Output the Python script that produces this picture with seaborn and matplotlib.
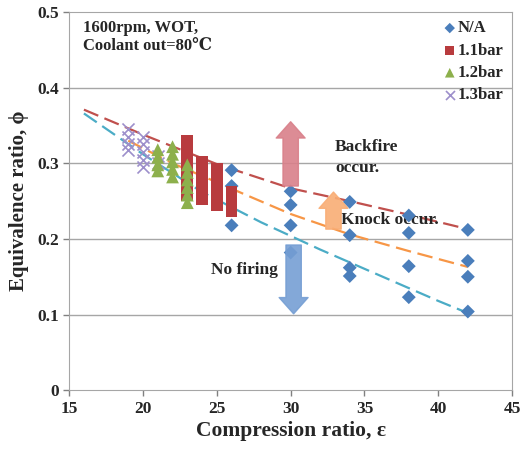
import numpy as np
import pandas as pd
import matplotlib
matplotlib.use("Agg")
import matplotlib.pyplot as plt
import seaborn as sns

# N/A (no boost) points
na_x = [26, 26, 26, 30, 30, 30, 30, 34, 34, 34, 34, 38, 38, 38, 38, 42, 42, 42, 42]
na_y = [0.291, 0.270, 0.218, 0.263, 0.245, 0.218, 0.182, 0.249, 0.205, 0.162, 0.151,
        0.231, 0.208, 0.164, 0.123, 0.212, 0.171, 0.150, 0.104]

# 1.1bar boost points (stacked)
b11_x = [23] * 8 + [24] * 6 + [25] * 6 + [26] * 4
b11_y = [0.330, 0.320, 0.310, 0.300, 0.290, 0.280, 0.270, 0.258,
         0.302, 0.292, 0.282, 0.272, 0.262, 0.253,
         0.293, 0.283, 0.273, 0.263, 0.253, 0.245,
         0.262, 0.253, 0.244, 0.237]

# 1.2bar boost points
b12_x = [21] * 4 + [22] * 5 + [23] * 6
b12_y = [0.318, 0.308, 0.298, 0.290,
         0.322, 0.312, 0.302, 0.292, 0.282,
         0.298, 0.288, 0.278, 0.268, 0.258, 0.248]

# 1.3bar boost points
b13_x = [19] * 4 + [20] * 5 + [21] * 2
b13_y = [0.345, 0.335, 0.325, 0.318,
         0.335, 0.325, 0.315, 0.305, 0.295,
         0.310, 0.300]

# trend lines
backfire_x = [16, 20, 25, 30, 34, 38, 42]
backfire_y = [0.371, 0.338, 0.299, 0.267, 0.250, 0.232, 0.213]
knock_x = [19, 22, 25, 27, 30, 34, 38, 42]
knock_y = [0.330, 0.300, 0.275, 0.258, 0.233, 0.206, 0.184, 0.163]
nofire_x = [16, 20, 24, 28, 32, 36, 40, 42]
nofire_y = [0.366, 0.312, 0.262, 0.222, 0.186, 0.152, 0.118, 0.102]

sns.set_style("white")
plt.rcParams['font.family'] = ['Liberation Serif', 'DejaVu Serif']
plt.rcParams['font.weight'] = 'bold'

fig = plt.figure(figsize=(5.28, 4.49), dpi=100)
ax = fig.add_axes([0.131, 0.131, 0.839, 0.842])

for yv in [0.1, 0.2, 0.3, 0.4]:
    ax.axhline(yv, color='#a6a6a6', lw=1.0, zorder=0)

# dashed trend lines
dash = (0, (7, 3))
sns.lineplot(x=backfire_x, y=backfire_y, ax=ax, color='#c0504d', lw=1.6,
             linestyle=dash, zorder=3)
sns.lineplot(x=knock_x, y=knock_y, ax=ax, color='#f79646', lw=1.6,
             linestyle=dash, zorder=3)
sns.lineplot(x=nofire_x, y=nofire_y, ax=ax, color='#4bacc6', lw=1.6,
             linestyle=dash, zorder=3)

sns.scatterplot(x=na_x, y=na_y, ax=ax, marker='D', color='#4a7ebb', s=50,
                edgecolor='none', label='N/A', zorder=4)
sns.scatterplot(x=b11_x, y=b11_y, ax=ax, marker='s', color='#b83b3e', s=70,
                edgecolor='none', label='1.1bar', zorder=4)
sns.scatterplot(x=b12_x, y=b12_y, ax=ax, marker='^', color='#8db04c', s=85,
                edgecolor='none', label='1.2bar', zorder=5)
sns.scatterplot(x=b13_x, y=b13_y, ax=ax, marker='x', color='#9d8fcb', s=75,
                linewidth=1.2, label='1.3bar', zorder=4)

# arrows
astyle = 'simple,head_length=0.9,head_width=1.6,tail_width=0.85'
ax.annotate('', xy=(30, 0.355), xytext=(30, 0.270),
            arrowprops=dict(arrowstyle=astyle, color='#d9808a', alpha=0.9,
                            shrinkA=0, shrinkB=0, mutation_scale=13), zorder=6)
ax.annotate('', xy=(32.9, 0.262), xytext=(32.9, 0.213),
            arrowprops=dict(arrowstyle=astyle, color='#f9ad75', alpha=0.9,
                            shrinkA=0, shrinkB=0, mutation_scale=13), zorder=6)
ax.annotate('', xy=(30.2, 0.101), xytext=(30.2, 0.192),
            arrowprops=dict(arrowstyle=astyle, color='#769fd4', alpha=0.9,
                            shrinkA=0, shrinkB=0, mutation_scale=13), zorder=6)

ax.text(15.95, 0.490, '1600rpm, WOT,\nCoolant out=80\u2103', fontsize=12,
        fontweight='bold', va='top', ha='left', linespacing=1.2)
ax.text(33.0, 0.322, 'Backfire', fontsize=12.5, fontweight='bold', va='center', ha='left')
ax.text(33.0, 0.294, 'occur.', fontsize=12.5, fontweight='bold', va='center', ha='left')
ax.text(33.4, 0.225, 'Knock occur.', fontsize=12.5, fontweight='bold', va='center', ha='left')
ax.text(24.6, 0.159, 'No firing', fontsize=12.5, fontweight='bold', va='center', ha='left')

ax.set_xlim(15, 45)
ax.set_ylim(0, 0.5)
ax.set_xticks([15, 20, 25, 30, 35, 40, 45])
ax.set_yticks([0, 0.1, 0.2, 0.3, 0.4, 0.5])
ax.set_yticklabels(['0', '0.1', '0.2', '0.3', '0.4', '0.5'])
ax.set_xlabel('Compression ratio, \u03b5', fontsize=15.5, fontweight='bold', labelpad=3)
ax.set_ylabel('Equivalence ratio, \u03d5', fontsize=15, fontweight='bold', labelpad=6)
ax.tick_params(axis='both', labelsize=12.5, direction='out', length=4,
               color='#808080', width=1, bottom=True, left=True)
for lbl in ax.get_xticklabels() + ax.get_yticklabels():
    lbl.set_fontweight('bold')
for sp in ax.spines.values():
    sp.set_color('#a6a6a6')

leg = ax.legend(loc='upper right', frameon=False, handletextpad=0.0,
                handlelength=1.0, labelspacing=0.38, borderaxespad=0.1,
                markerscale=0.75, prop={'weight': 'bold', 'size': 12})

fig.savefig('out.png', dpi=100)
